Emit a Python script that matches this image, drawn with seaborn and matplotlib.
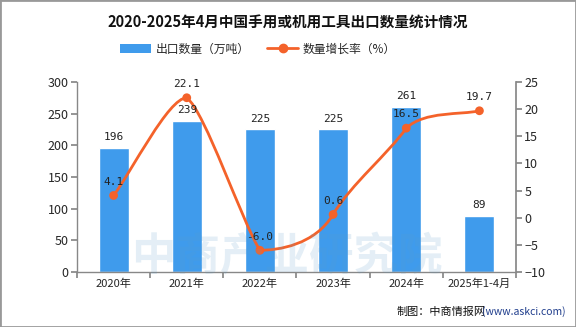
import numpy as np
import pandas as pd
import seaborn as sns
import matplotlib
matplotlib.use("Agg")
import matplotlib.pyplot as plt
from matplotlib.path import Path
from matplotlib.patches import PathPatch, Rectangle
from matplotlib.lines import Line2D
from matplotlib.patches import Patch

categories = ["2020年", "2021年", "2022年", "2023年", "2024年", "2025年1-4月"]
export_volume = [196, 239, 225, 225, 261, 89]
growth_rate = [4.1, 22.1, -6.0, 0.6, 16.5, 19.7]
growth_labels = ["4.1", "22.1", "-6.0", "0.6", "16.5", "19.7"]

BAR = "#3f9bec"
LINE = "#f4622a"

sns.set_theme(style="white")
plt.rcParams["font.family"] = ["Noto Sans CJK SC", "DejaVu Sans"]

fig = plt.figure(figsize=(5.76, 3.27), dpi=100)
ax = fig.add_axes([77/576, 1-272/327, (516-77)/576, 190/327])

df = pd.DataFrame({"cat": categories, "vol": export_volume})
sns.barplot(data=df, x="cat", y="vol", color=BAR, width=0.41, ax=ax, saturation=1, zorder=2)
ax.set_ylim(0, 300)
ax.set_xlim(-0.5, 5.5)
ax.set_yticks(range(0, 301, 50))
ax.set_xticks(np.arange(-0.5, 6, 1))
ax.set_xticklabels([])
ax.set_xticks(range(6), minor=True)
ax.set_xticklabels(categories, minor=True, fontsize=8)
ax.tick_params(axis="x", which="minor", length=0, pad=5)
ax.tick_params(axis="x", which="major", length=4, color="#888888", direction="out", bottom=True)
ax.tick_params(axis="y", length=4, color="#888888", direction="out", left=True, labelsize=9, pad=2)
ax.set_xlabel("")
ax.set_ylabel("")
for s in ["top", "right"]:
    ax.spines[s].set_visible(False)
for s in ["left", "bottom"]:
    ax.spines[s].set_color("#888888")
    ax.spines[s].set_linewidth(1)

ax2 = ax.twinx()
ax2.set_ylim(-10, 25)
ax2.set_yticks(range(-10, 26, 5))
ax2.tick_params(axis="y", length=4, color="#888888", direction="out", right=True, labelsize=9, pad=2)
for s in ["top", "left", "bottom"]:
    ax2.spines[s].set_visible(False)
ax2.spines["right"].set_color("#888888")
ax2.grid(False)
ax.grid(False)

# bar value labels (drawn on top of the line)
for i, v in enumerate(export_volume):
    ax2.text(i, v + 9, str(v), transform=ax.transData, ha="center", va="bottom", fontsize=8,
             family=["DejaVu Sans Mono"], color="#222222", zorder=6)

# smooth curve through the data points (cubic Bezier, control points clamped per segment)
xs = np.arange(len(growth_rate), dtype=float)
ys = np.array(growth_rate, dtype=float)
verts = [(xs[0], ys[0])]
codes = [Path.MOVETO]
t = 0.5
for i in range(len(xs) - 1):
    p0 = (xs[max(i-1, 0)], ys[max(i-1, 0)])
    p1 = (xs[i], ys[i])
    p2 = (xs[i+1], ys[i+1])
    p3 = (xs[min(i+2, len(xs)-1)], ys[min(i+2, len(xs)-1)])
    lo, hi = min(p1[1], p2[1]), max(p1[1], p2[1])
    c1y = np.clip(p1[1] + (p2[1]-p0[1])*t/2, lo, hi)
    c2y = np.clip(p2[1] - (p3[1]-p1[1])*t/2, lo, hi)
    c1 = (p1[0] + t/2, c1y)
    c2 = (p2[0] - t/2, c2y)
    verts += [c1, c2, p2]
    codes += [Path.CURVE4]*3
ax2.add_patch(PathPatch(Path(verts, codes), fill=False, edgecolor=LINE, lw=2, zorder=3))
sns.scatterplot(x=xs, y=ys, ax=ax2, color=LINE, s=40, edgecolor="none", zorder=4, legend=False)
for i, v in enumerate(growth_rate):
    ax2.text(i, v + 1.6, growth_labels[i], ha="center", va="bottom", fontsize=8,
             family=["DejaVu Sans Mono"], color="#222222", zorder=5)

# watermark
fig.text(287/576, 1-257/327, "中商产业研究院", ha="center", va="center", fontsize=32,
         color="#5a9bc8", alpha=0.16, fontweight="bold")

fig.text(0.5, 1-22/327, "2020-2025年4月中国手用或机用工具出口数量统计情况", ha="center", va="center",
         fontsize=10.5, fontweight="bold", color="#111111")

handles = [Patch(facecolor=BAR, edgecolor="none"),
           Line2D([0], [0], color=LINE, lw=2, marker="o", markersize=6)]
fig.legend(handles, ["出口数量（万吨）", "数量增长率（%）"], loc="center",
           bbox_to_anchor=(258/576, 1-49/327), ncol=2, frameon=False, fontsize=8.5,
           handlelength=2.6, handleheight=0.8, columnspacing=1.5, handletextpad=0.4)

fig.text(1-90/576, 1-312/327, "制图：中商情报网", ha="right", va="center", fontsize=8, color="#111111")
fig.text(1-10/576, 1-312/327, "(www.askci.com)", ha="right", va="center", fontsize=7.5, color="#1f3d8c")

fig.add_artist(Rectangle((0, 0), 1, 1, transform=fig.transFigure, fill=False,
                         edgecolor="#999999", lw=2))

fig.savefig("out.png", dpi=100)
